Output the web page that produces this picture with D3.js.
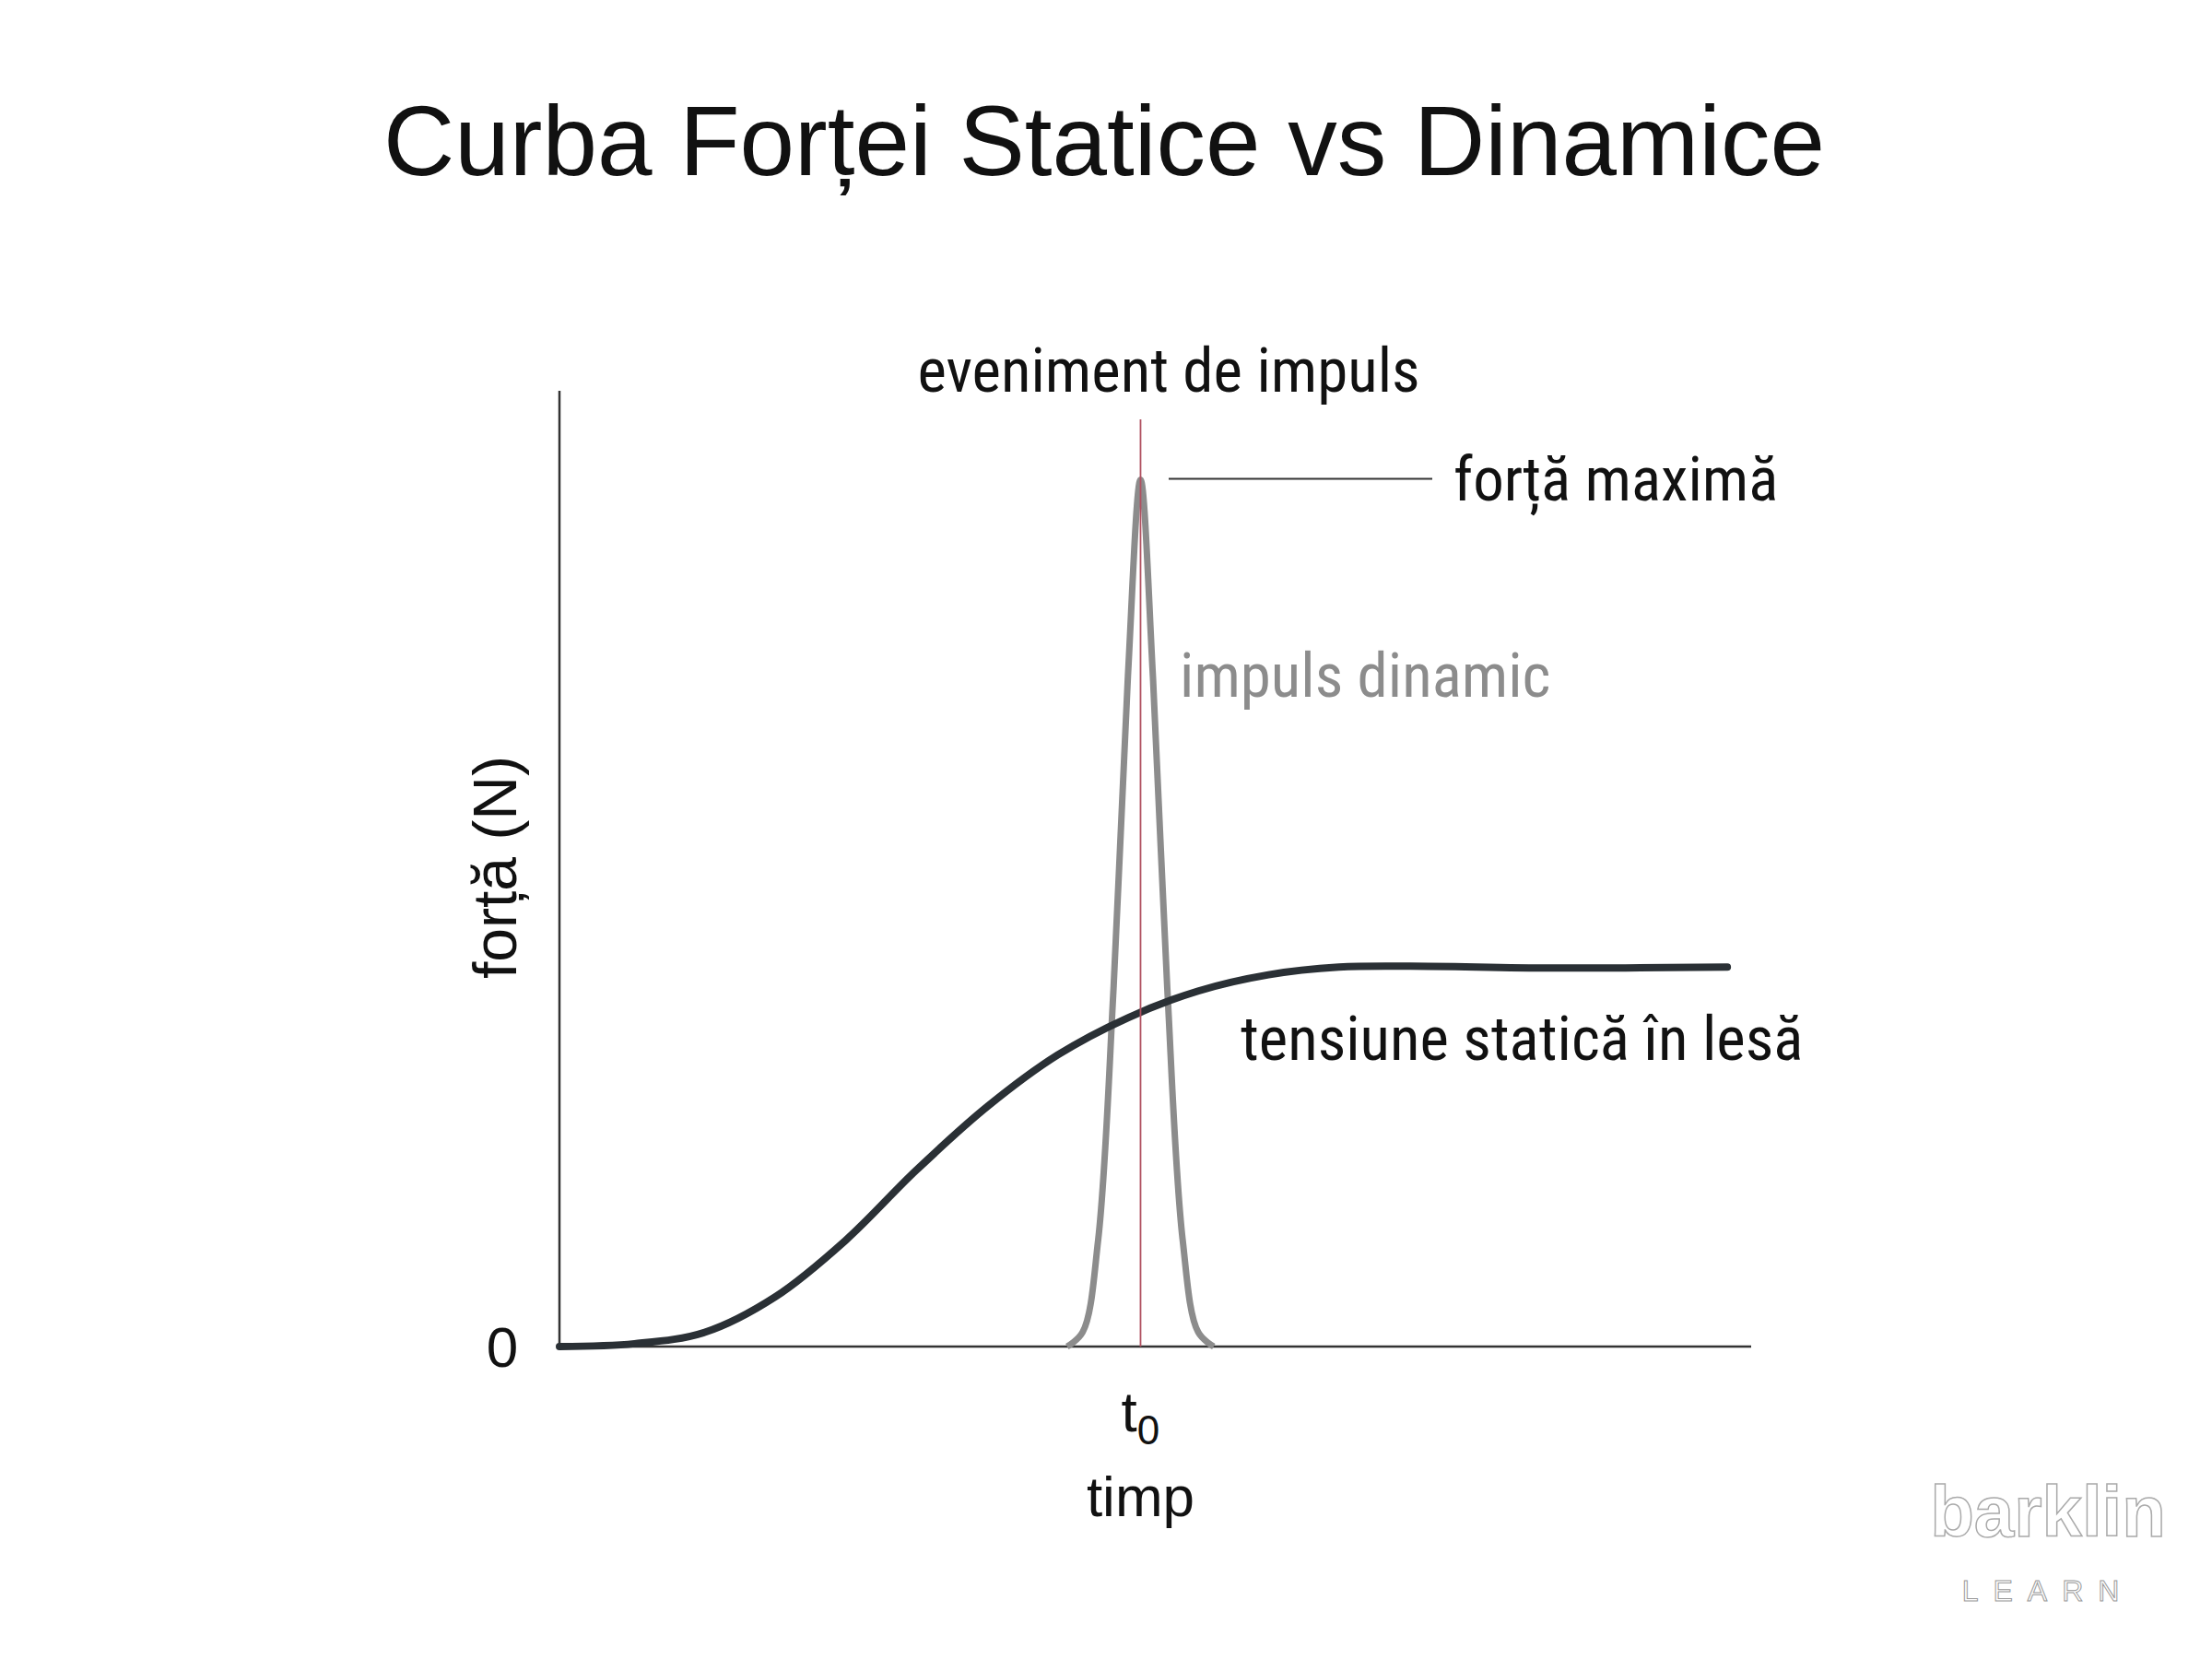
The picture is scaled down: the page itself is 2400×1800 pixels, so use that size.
<!DOCTYPE html>
<html><head><meta charset="utf-8">
<script src="https://cdn.jsdelivr.net/npm/d3@7/dist/d3.min.js"></script>
<style>body{margin:0;background:#fff}</style></head>
<body><svg id="c" width="2400" height="1800"></svg>
<script>
const staticX=[0,6.3,12.2,18.1,24,29.9,35.9,41.8,47.7,53.6,59.5,65.4,71.4,83.2,98];
const staticY=[0,0.3,1.5,5.2,11.1,18.4,25.1,30.5,34.4,37.2,38.9,39.7,39.8,39.6,39.7];
const pulseX=[42.6,43.9,45.2,46.5,47.7,48.76,49.8,51.0,52.3,53.6,54.9];
const pulseY=[0,1.5,11.1,37.6,70.1,90.7,70.1,37.6,11.1,1.5,0];
const t0=48.76, peak=90.7;
const svg=d3.select("#c");
const x=d3.scaleLinear().domain([0,100]).range([607,1900]);
const y=d3.scaleLinear().domain([0,100]).range([1461,424]);
const narrow="'Liberation Sans Narrow','Roboto Condensed','DejaVu Sans Condensed',sans-serif";
svg.append("text").attr("x",1198).attr("y",190).attr("text-anchor","middle")
 .attr("font-family","'Liberation Sans',Arial,sans-serif").attr("font-size",107).attr("fill","#111").text("Curba Forței Statice vs Dinamice");
svg.append("line").attr("x1",x(0)).attr("x2",x(0)).attr("y1",y(100)).attr("y2",y(0)).attr("stroke","#333").attr("stroke-width",2.5);
svg.append("line").attr("x1",x(0)).attr("x2",x(100)).attr("y1",y(0)).attr("y2",y(0)).attr("stroke","#333").attr("stroke-width",2.5);
svg.append("text").attr("x",x(0)-62).attr("y",y(0)+22).attr("text-anchor","middle").attr("font-family","'Liberation Sans',sans-serif").attr("font-size",62).attr("fill","#111").text("0");
const tl=svg.append("text").attr("x",x(t0)).attr("y",1553).attr("text-anchor","middle").attr("font-family","'Liberation Sans',sans-serif").attr("font-size",62).attr("fill","#111");
tl.append("tspan").text("t");tl.append("tspan").attr("font-size",44).attr("dy",14).text("0");
svg.append("text").attr("x",x(t0)).attr("y",1645).attr("text-anchor","middle").attr("font-family","'Liberation Sans',sans-serif").attr("font-size",62).attr("fill","#111").text("timp");
svg.append("text").attr("transform","translate(560,941) rotate(-90)").attr("text-anchor","middle").attr("font-family","'Liberation Sans',sans-serif").attr("font-size",66).attr("fill","#111").text("forță (N)");
const line=d3.line().x(d=>x(d[0])).y(d=>y(d[1])).curve(d3.curveCatmullRom);
svg.append("path").datum(pulseX.map((v,i)=>[v,pulseY[i]])).attr("d",line).attr("fill","none").attr("stroke","#8c8c8c").attr("stroke-width",7);
svg.append("path").datum(staticX.map((v,i)=>[v,staticY[i]])).attr("d",line).attr("fill","none").attr("stroke","#2a3035").attr("stroke-width",8).attr("stroke-linecap","round");
svg.append("line").attr("x1",x(t0)).attr("x2",x(t0)).attr("y1",455).attr("y2",y(0)).attr("stroke","#b05060").attr("stroke-width",1.8);
svg.append("line").attr("x1",1268).attr("x2",1554).attr("y1",y(peak)-1).attr("y2",y(peak)-1).attr("stroke","#333").attr("stroke-width",2);
const lab=(t,xx,yy,c,a)=>svg.append("text").attr("x",xx).attr("y",yy).attr("text-anchor",a||"start").attr("font-family",narrow).attr("font-size",67).attr("fill",c).text(t);
lab("eveniment de impuls",1268,425,"#111","middle");
lab("forță maximă",1577,543,"#111");
lab("impuls dinamic",1280,756,"#8c8c8c");
lab("tensiune statică în lesă",1346,1150,"#111");
svg.append("text").attr("x",2222).attr("y",1667).attr("text-anchor","middle").attr("font-family","'Liberation Sans',sans-serif").attr("font-weight","bold").attr("font-size",78).attr("fill","#fff").attr("stroke","#aaa").attr("stroke-width",1.5).text("barklin");
svg.append("text").attr("x",2222).attr("y",1737).attr("text-anchor","middle").attr("font-family","'Liberation Sans',sans-serif").attr("font-size",32).attr("letter-spacing",16).attr("fill","#fff").attr("stroke","#999").attr("stroke-width",1).text("LEARN");
</script></body></html>
